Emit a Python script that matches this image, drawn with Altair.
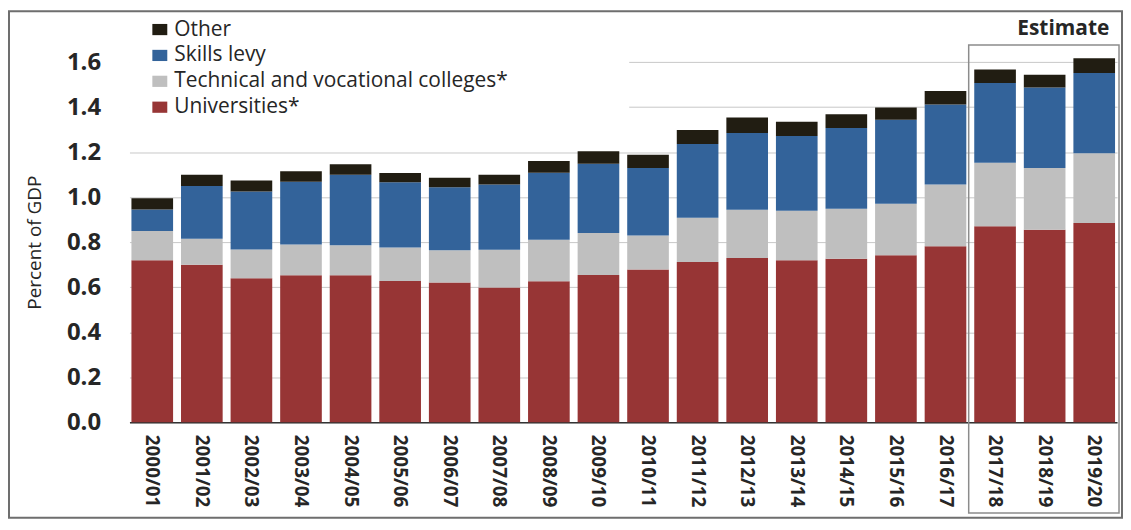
import altair as alt
import pandas as pd

years = ["2000/01", "2001/02", "2002/03", "2003/04", "2004/05", "2005/06", "2006/07",
         "2007/08", "2008/09", "2009/10", "2010/11", "2011/12", "2012/13", "2013/14",
         "2014/15", "2015/16", "2016/17", "2017/18", "2018/19", "2019/20"]
universities = [0.72, 0.70, 0.64, 0.653, 0.653, 0.628, 0.621, 0.599, 0.627, 0.654,
                0.679, 0.712, 0.730, 0.720, 0.726, 0.742, 0.782, 0.871, 0.855, 0.885]
technical = [0.13, 0.115, 0.128, 0.137, 0.133, 0.148, 0.143, 0.168, 0.184, 0.187,
             0.151, 0.197, 0.214, 0.220, 0.223, 0.229, 0.274, 0.282, 0.275, 0.310]
skills = [0.095, 0.235, 0.257, 0.279, 0.314, 0.290, 0.280, 0.289, 0.298, 0.307,
          0.300, 0.327, 0.341, 0.332, 0.358, 0.373, 0.356, 0.354, 0.357, 0.357]
other = [0.05, 0.05, 0.049, 0.046, 0.046, 0.042, 0.042, 0.044, 0.052, 0.056,
         0.059, 0.062, 0.069, 0.063, 0.062, 0.054, 0.060, 0.060, 0.057, 0.065]

series_names = ["Other", "Skills levy", "Technical and vocational colleges*", "Universities*"]
series_colors = ["#211d12", "#33639a", "#bfbfbf", "#973535"]
y_ticks = [0.0, 0.2, 0.4, 0.6, 0.8, 1.0, 1.2, 1.4, 1.6]

series_values = {
    "Universities*": universities,
    "Technical and vocational colleges*": technical,
    "Skills levy": skills,
    "Other": other,
}
stack_rank = {"Universities*": 0, "Technical and vocational colleges*": 1, "Skills levy": 2, "Other": 3}

rows = []
for i, yr in enumerate(years):
    for name, vals in series_values.items():
        rows.append({"year": yr, "series": name, "value": vals[i], "rank": stack_rank[name]})
df = pd.DataFrame(rows)

FONT = "Open Sans"
TXT = "#262626"

bars = alt.Chart(df).mark_bar().encode(
    x=alt.X("year:N", sort=years,
            scale=alt.Scale(paddingInner=0.16, paddingOuter=0.04),
            axis=alt.Axis(title=None, labelAngle=90, labelFont=FONT, labelFontSize=19,
                          labelFontWeight="bold", labelColor=TXT, ticks=False,
                          domainColor="#333333", domainWidth=1.5, labelPadding=12,
                          grid=False)),
    y=alt.Y("value:Q", stack="zero",
            scale=alt.Scale(domain=[0, 1.8], nice=False),
            axis=alt.Axis(values=y_ticks, format=".1f", title="Percent of GDP",
                          titleFont=FONT, titleFontSize=19, titleFontWeight="normal",
                          titleColor=TXT, titleX=-95, titleY=226, titleAngle=-90,
                          titleAlign="center", titleBaseline="middle",
                          labelFont=FONT, labelFontSize=24, labelFontWeight="bold",
                          labelColor=TXT, labelPadding=29, domain=False, ticks=False,
                          grid=True, gridColor="#c8c8c8", gridWidth=1)),
    color=alt.Color("series:N",
                    scale=alt.Scale(domain=series_names, range=series_colors),
                    legend=alt.Legend(title=None, orient="none", legendX=16, legendY=-2,
                                      labelFont=FONT, labelFontSize=21, labelColor=TXT,
                                      labelLimit=0,
                                      symbolType="M-1,-0.75L1,-0.75L1,0.75L-1,0.75Z",
                                      symbolSize=225, symbolStrokeWidth=0,
                                      rowPadding=4, padding=4, labelOffset=4)),
    order=alt.Order("rank:Q", sort="ascending"),
)

one = alt.Data(values=[{}])

cover = alt.Chart(one).mark_rect(fill="white").encode(
    x=alt.value(0), x2=alt.value(502), y=alt.value(-8), y2=alt.value(100))

frame = alt.Chart(one).mark_rect(fillOpacity=0, stroke="#6e6e6e", strokeWidth=2).encode(
    x=alt.value(-121), x2=alt.value(997), y=alt.value(-6), y2=alt.value(503))

estimate_box = alt.Chart(one).mark_rect(fillOpacity=0, stroke="#8c8c8c", strokeWidth=1.5).encode(
    x=alt.value(843), x2=alt.value(994), y=alt.value(28), y2=alt.value(498))

estimate_text = alt.Chart(one).mark_text(
    text="Estimate", font=FONT, fontSize=21, fontWeight="bold", color=TXT,
    align="center", baseline="middle").encode(x=alt.value(938), y=alt.value(12))

chart = alt.layer(cover, bars, estimate_box, estimate_text, frame).properties(
    width=992, height=407,
    autosize=alt.AutoSizeParams(type="none"),
    padding={"left": 122, "top": 8, "right": 6, "bottom": 97},
    background="white",
).configure_view(stroke=None)

chart.save("out.html", embed_options={"renderer": "svg", "actions": False})
